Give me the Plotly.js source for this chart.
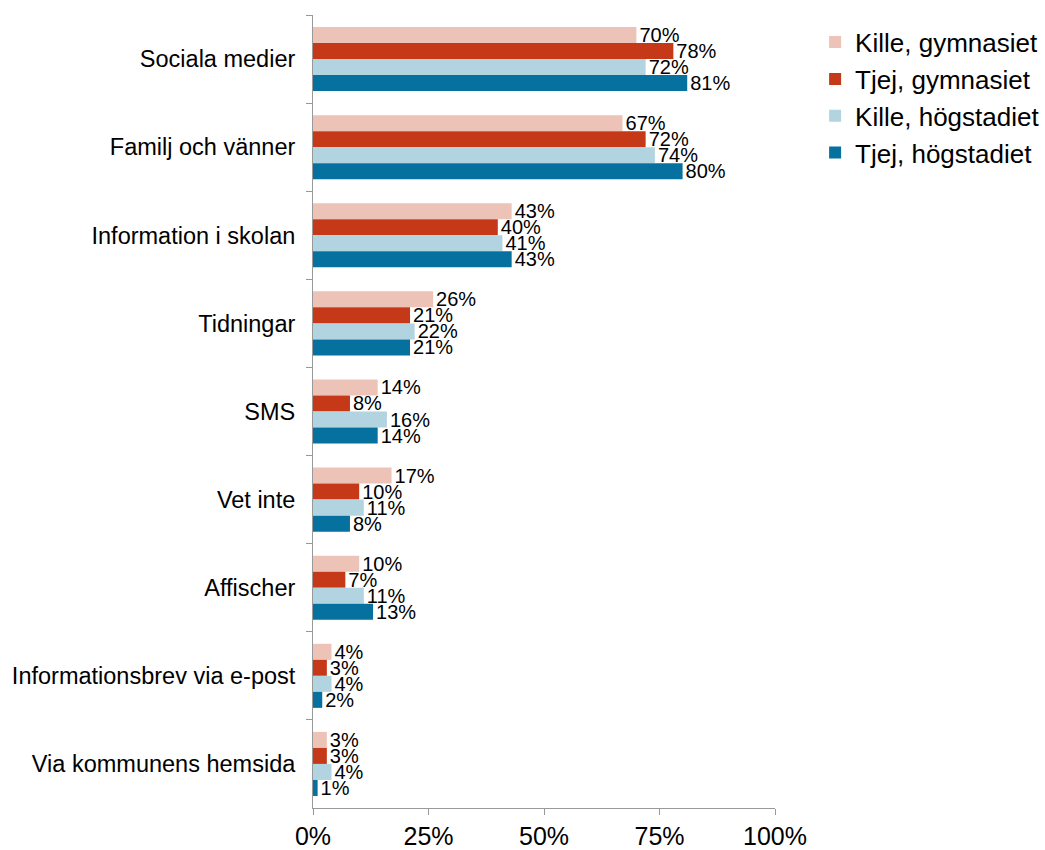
<!DOCTYPE html>
<html>
<head>
<meta charset="utf-8">
<script src="https://cdn.plot.ly/plotly-3.0.1.min.js"></script>
<style>html,body{margin:0;padding:0;background:#fff;}</style>
</head>
<body>
<div id="chart" style="width:1045px;height:850px;"></div>
<script>
const categories = ["Sociala medier","Familj och vänner","Information i skolan","Tidningar","SMS","Vet inte","Affischer","Informationsbrev via e-post","Via kommunens hemsida"];
const seriesNames = ["Kille, gymnasiet","Tjej, gymnasiet","Kille, högstadiet","Tjej, högstadiet"];
const killeGymnasiet = [70,67,43,26,14,17,10,4,3];
const tjejGymnasiet = [78,72,40,21,8,10,7,3,3];
const killeHogstadiet = [72,74,41,22,16,11,11,4,4];
const tjejHogstadiet = [81,80,43,21,14,8,13,2,1];
const xTicks = [0,25,50,75,100];
const colors = ["#EDC3B8","#C53818","#B2D4E0","#06719E"];

const font = "Liberation Sans, Arial, sans-serif";
const allSeries = [killeGymnasiet,tjejGymnasiet,killeHogstadiet,tjejHogstadiet];
const traces = allSeries.map((vals,i)=>({
  type:"bar",
  orientation:"h",
  name:seriesNames[i],
  y:categories,
  x:vals,
  text:vals.map(v=>v+"%"),
  textposition:"outside",
  constraintext:"none",
  cliponaxis:false,
  textfont:{family:font,size:20,color:"#000"},
  marker:{color:colors[i],line:{width:0}},
  hoverinfo:"skip"
}));

const layout = {
  width:1045,height:850,
  margin:{l:313,r:270,t:15,b:42,pad:0,autoexpand:false},
  paper_bgcolor:"#fff",plot_bgcolor:"#fff",
  barmode:"group",bargap:0.273,bargroupgap:0,
  font:{family:font,color:"#000"},
  xaxis:{range:[0,100],tickvals:xTicks,ticktext:xTicks.map(t=>t+"%"),automargin:false,
    showgrid:false,zeroline:false,showline:true,linecolor:"#999",linewidth:1,
    ticks:"outside",ticklen:6,tickcolor:"#999",tickfont:{family:font,size:25,color:"#000"},fixedrange:true},
  yaxis:{autorange:"reversed",showgrid:false,zeroline:false,showline:true,linecolor:"#999",linewidth:1,automargin:false,
    ticks:"outside",tickson:"boundaries",ticklen:6,tickcolor:"#999",ticklabelstandoff:12,
    tickfont:{family:font,size:23.5,color:"#000"},fixedrange:true},
  legend:{xref:"container",yref:"container",x:0.78,xanchor:"left",y:0.978,yanchor:"top",
    font:{family:font,size:26,color:"#000"},
    traceorder:"normal",bgcolor:"rgba(0,0,0,0)"},
  showlegend:true
};
Plotly.newPlot("chart",traces,layout,{displayModeBar:false,staticPlot:true});
</script>
</body>
</html>
